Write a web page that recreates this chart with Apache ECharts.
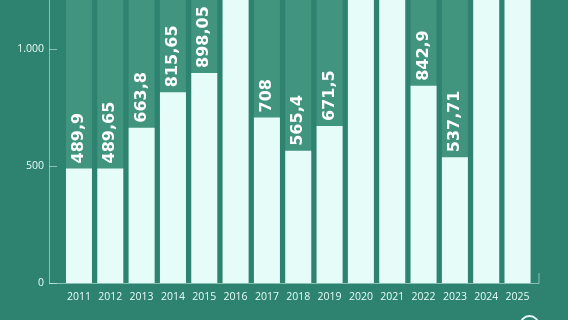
<!DOCTYPE html>
<html>
<head>
<meta charset="utf-8">
<script src="https://cdn.jsdelivr.net/npm/echarts@6/dist/echarts.min.js"></script>
<style>
html,body{margin:0;padding:0;background:#2e8270;}
#c{width:568px;height:320px;}
</style>
</head>
<body>
<div id="c"></div>
<script>
const categories = ['2011','2012','2013','2014','2015','2016','2017','2018','2019','2020','2021','2022','2023','2024','2025'];
const values = [489.9, 489.65, 663.8, 815.65, 898.05, 1650, 708, 565.4, 671.5, 1720, 1800, 842.9, 537.71, 1750, 1900];
const yTicks = [0, 500, 1000];

const light = '#e6fcf8';
const axisCol = 'rgba(210,245,235,0.55)';

const chart = echarts.init(document.getElementById('c'), null, {renderer:'canvas'});
chart.setOption({
  backgroundColor: '#2e8270',
  animation: false,
  grid: {left: 63.3, right: 34.8, top: 0, bottom: 37, containLabel: false},
  xAxis: {
    type: 'category',
    data: categories,
    axisLine: {show: false},
    axisTick: {show: false},
    axisLabel: {color: light, fontFamily: 'Open Sans', fontSize: 10.5, margin: 9}
  },
  yAxis: {
    type: 'value',
    min: 0, max: 1210,
    offset: 14.3,
    axisLine: {show: true, lineStyle: {color: axisCol, width: 1}},
    axisTick: {show: true, inside: true, length: 8, lineStyle: {color: axisCol}, customValues: yTicks},
    axisLabel: {
      color: light, fontFamily: 'Open Sans', fontSize: 10.5, margin: 5,
      customValues: yTicks,
      formatter: v => v >= 1000 ? (v/1000) + '.' + String(v%1000).padStart(3,'0') : String(v)
    },
    splitLine: {show: false}
  },
  series: [{
    type: 'bar',
    data: values,
    barWidth: 26,
    clip: true,
    showBackground: true,
    backgroundStyle: {color: '#41957f'},
    itemStyle: {color: light},
    label: {
      show: true,
      position: 'top',
      distance: 5,
      rotate: 90,
      align: 'left',
      verticalAlign: 'middle',
      color: '#ffffff',
      fontFamily: 'DejaVu Sans',
      fontWeight: 'bold',
      fontSize: 16,
      formatter: p => String(p.value).replace('.', ',')
    }
  }],
  graphic: [
    {type: 'polyline', silent: true, z: 1,
     shape: {points: [[49, 283.5], [539, 283.5], [539, 273]]},
     style: {stroke: axisCol, lineWidth: 1, fill: null}},
    {type: 'circle', silent: true,
     shape: {cx: 529.5, cy: 325, r: 9},
     style: {stroke: light, lineWidth: 2, fill: null}}
  ]
});
</script>
</body>
</html>
